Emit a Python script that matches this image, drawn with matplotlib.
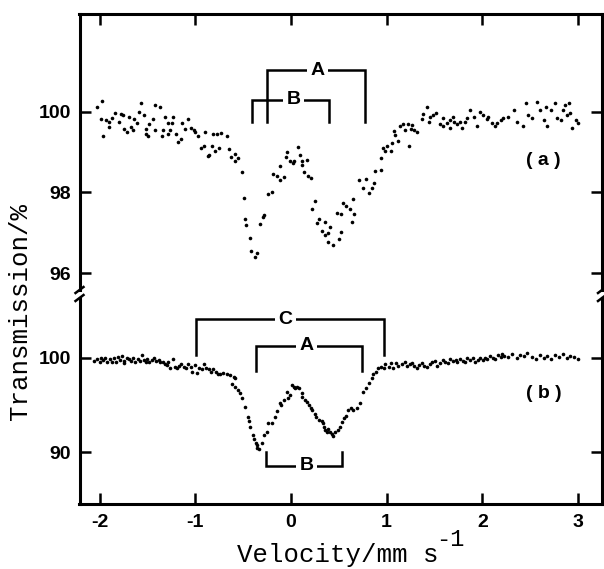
import numpy as np
import matplotlib.pyplot as plt

plt.rcParams['font.family'] = ['Liberation Sans', 'DejaVu Sans']
plt.rcParams['axes.unicode_minus'] = False

# spectrum (a): velocity (mm/s) and transmission (%)
vel_a = [-2.03, -1.97, -1.99, -1.96, -1.93, -1.90, -1.90, -1.87, -1.84, -1.80,
         -1.78, -1.76, -1.74, -1.71, -1.69, -1.67, -1.65, -1.64, -1.61, -1.59,
         -1.57, -1.54, -1.52, -1.52, -1.49, -1.48, -1.44, -1.42, -1.42, -1.37,
         -1.35, -1.34, -1.32, -1.29, -1.28, -1.26, -1.24, -1.23, -1.20, -1.18,
         -1.15, -1.14, -1.11, -1.08, -1.04, -1.01, -1.00, -0.97, -0.94, -0.91,
         -0.90, -0.87, -0.86, -0.83, -0.81, -0.79, -0.77, -0.75, -0.73, -0.67,
         -0.65, -0.63, -0.59, -0.58, -0.55, -0.51, -0.49, -0.48, -0.47, -0.43,
         -0.42, -0.38, -0.35, -0.32, -0.29, -0.28, -0.24, -0.20, -0.19, -0.15,
         -0.12, -0.11, -0.07, -0.04, -0.05, -0.01, 0.02, 0.03, 0.07, 0.09,
         0.11, 0.12, 0.17, 0.14, 0.18, 0.21, 0.25, 0.22, 0.29, 0.27,
         0.32, 0.36, 0.36, 0.41, 0.39, 0.39, 0.44, 0.50, 0.52, 0.48,
         0.52, 0.54, 0.58, 0.62, 0.64, 0.65, 0.66, 0.71, 0.75, 0.78,
         0.81, 0.85, 0.87, 0.88, 0.94, 0.94, 0.96, 0.98, 1.00, 1.04,
         1.06, 1.09, 1.08, 1.12, 1.14, 1.17, 1.19, 1.22, 1.23, 1.25,
         1.26, 1.29, 1.32, 1.37, 1.38, 1.42, 1.44, 1.45, 1.48, 1.52,
         1.56, 1.59, 1.59, 1.63, 1.66, 1.66, 1.69, 1.70, 1.74, 1.77,
         1.79, 1.82, 1.84, 1.87, 1.91, 1.94, 1.98, 2.01, 2.05, 2.06,
         2.10, 2.13, 2.15, 2.19, 2.22, 2.27, 2.33, 2.36, 2.42, 2.46,
         2.48, 2.52, 2.57, 2.60, 2.64, 2.66, 2.68, 2.72, 2.76, 2.78,
         2.82, 2.84, 2.86, 2.88, 2.90, 2.92, 2.94, 2.98, 3.00]
tr_a = [100.13, 100.27, 99.83, 99.39, 99.79, 99.76, 99.62, 99.84, 99.97, 99.75,
        99.95, 99.93, 99.57, 99.50, 99.88, 99.62, 99.56, 99.82, 99.72, 99.99,
        100.21, 99.92, 99.57, 99.45, 99.41, 99.70, 99.83, 100.16, 99.54, 100.13,
        99.41, 99.54, 99.88, 99.45, 99.72, 99.54, 99.72, 99.87, 99.46, 99.25,
        99.34, 99.72, 99.57, 99.83, 99.60, 99.54, 99.51, 99.39, 99.11, 99.16,
        99.51, 98.91, 98.94, 99.16, 99.45, 99.02, 99.45, 99.10, 99.47, 99.41,
        99.09, 98.88, 98.96, 98.77, 98.86, 98.50, 97.87, 97.35, 97.19, 96.86,
        96.55, 96.39, 96.49, 97.23, 97.38, 97.43, 97.97, 98.02, 98.46, 98.40,
        98.32, 98.65, 98.39, 99.00, 98.88, 98.77, 98.72, 98.77, 99.14, 98.94,
        98.79, 98.69, 98.81, 98.50, 98.42, 98.35, 97.80, 97.58, 97.35, 97.25,
        97.04, 97.28, 96.95, 97.14, 96.99, 96.78, 96.69, 96.84, 97.03, 97.50,
        97.46, 97.75, 97.66, 97.58, 97.28, 97.84, 97.46, 98.30, 98.10, 98.34,
        97.99, 98.10, 98.24, 98.54, 98.57, 98.86, 99.10, 99.02, 99.16, 99.04,
        99.24, 99.43, 99.53, 99.27, 99.64, 99.70, 99.56, 99.70, 99.16, 99.57,
        99.68, 99.56, 99.51, 99.82, 99.95, 100.13, 99.76, 99.87, 99.93, 99.97,
        99.70, 99.84, 99.65, 99.72, 99.60, 99.80, 99.88, 99.75, 99.70, 99.76,
        99.60, 99.75, 99.84, 100.05, 99.88, 99.65, 100.01, 99.93, 99.82, 99.87,
        99.72, 99.64, 99.72, 99.80, 99.84, 99.88, 100.05, 99.76, 99.64, 100.21,
        99.93, 99.84, 100.25, 100.05, 99.80, 100.13, 99.64, 100.05, 100.21, 99.84,
        99.80, 100.05, 100.17, 99.93, 100.21, 99.97, 99.60, 99.80, 99.72]

# spectrum (b)
vel_b = [-2.06, -2.03, -2.00, -1.99, -1.96, -1.94, -1.92, -1.89, -1.87, -1.85,
         -1.83, -1.81, -1.79, -1.77, -1.75, -1.74, -1.71, -1.69, -1.67, -1.65,
         -1.63, -1.60, -1.58, -1.56, -1.54, -1.52, -1.50, -1.48, -1.45, -1.43,
         -1.41, -1.38, -1.37, -1.34, -1.32, -1.30, -1.28, -1.26, -1.23, -1.21,
         -1.19, -1.17, -1.15, -1.12, -1.10, -1.08, -1.05, -1.03, -1.00, -0.98,
         -0.96, -0.93, -0.91, -0.89, -0.86, -0.84, -0.81, -0.78, -0.76, -0.74,
         -0.71, -0.67, -0.64, -0.60, -0.58, -0.62, -0.58, -0.55, -0.53, -0.51,
         -0.48, -0.45, -0.44, -0.43, -0.40, -0.39, -0.37, -0.35, -0.33, -0.36,
         -0.30, -0.28, -0.25, -0.24, -0.20, -0.17, -0.15, -0.12, -0.10, -0.07,
         -0.04, -0.03, -0.01, 0.01, 0.03, 0.04, 0.06, 0.08, 0.11, 0.12,
         0.15, 0.17, 0.19, 0.21, 0.22, 0.25, 0.26, 0.29, 0.32, 0.33,
         0.35, 0.36, 0.38, 0.39, 0.41, 0.43, 0.44, 0.46, 0.49, 0.51,
         0.53, 0.55, 0.58, 0.60, 0.63, 0.65, 0.69, 0.72, 0.75, 0.78,
         0.81, 0.85, 0.86, 0.89, 0.91, 0.94, 0.97, 0.98, 1.02, 1.04,
         1.07, 1.10, 1.12, 1.16, 1.19, 1.21, 1.24, 1.26, 1.29, 1.32,
         1.34, 1.37, 1.39, 1.42, 1.45, 1.47, 1.51, 1.53, 1.56, 1.59,
         1.61, 1.64, 1.66, 1.69, 1.72, 1.74, 1.77, 1.80, 1.82, 1.84,
         1.87, 1.90, 1.92, 1.95, 1.98, 2.01, 2.03, 2.05, 2.08, 2.11,
         2.13, 2.16, 2.19, 2.21, 2.23, 2.27, 2.31, 2.36, 2.39, 2.43,
         2.47, 2.52, 2.56, 2.60, 2.64, 2.68, 2.72, 2.76, 2.80, 2.84,
         2.88, 2.92, 2.96, 3.00]
tr_b = [99.65, 99.86, 99.58, 99.93, 99.72, 100.00, 99.58, 99.86, 99.51, 99.93,
        99.58, 100.11, 99.76, 100.21, 99.41, 99.65, 99.93, 99.83, 99.65, 99.93,
        99.51, 99.86, 99.65, 100.29, 99.76, 99.58, 99.86, 99.58, 99.76, 99.93,
        99.65, 99.76, 99.51, 99.58, 99.33, 99.20, 99.58, 98.88, 99.86, 99.05,
        98.94, 99.16, 99.30, 99.05, 98.94, 99.30, 99.05, 98.46, 99.23, 98.35,
        98.94, 98.81, 99.30, 98.88, 98.81, 98.52, 98.77, 98.46, 98.25, 98.25,
        98.35, 98.25, 98.17, 97.99, 97.82, 97.19, 96.94, 96.59, 96.24, 95.71,
        94.83, 93.77, 93.31, 92.71, 91.84, 91.41, 90.96, 90.50, 90.36, 90.78,
        90.96, 91.84, 92.19, 93.07, 93.07, 93.77, 94.37, 95.18, 95.01, 95.53,
        96.41, 95.78, 96.06, 97.12, 96.94, 96.77, 96.94, 96.77, 96.24, 95.88,
        95.53, 95.35, 95.01, 94.72, 94.48, 94.02, 93.77, 93.42, 93.31, 93.07,
        92.71, 92.37, 92.19, 92.47, 92.19, 91.91, 91.76, 92.19, 92.37, 92.71,
        93.24, 93.60, 93.88, 94.48, 94.72, 94.48, 94.66, 95.18, 96.35, 96.77,
        97.30, 97.82, 98.25, 98.46, 98.88, 99.05, 98.88, 99.30, 99.05, 99.41,
        98.94, 99.41, 99.16, 99.30, 99.51, 99.16, 99.30, 99.41, 99.16, 98.94,
        99.23, 99.41, 99.16, 99.05, 99.30, 99.51, 99.65, 99.16, 99.41, 99.76,
        99.58, 99.41, 99.86, 99.65, 99.76, 99.51, 99.86, 99.65, 99.58, 99.93,
        99.76, 100.00, 99.58, 99.76, 99.93, 99.76, 100.00, 99.86, 100.21, 100.00,
        99.86, 100.29, 100.11, 100.36, 100.18, 100.04, 100.39, 99.93, 100.28, 100.18,
        100.46, 100.11, 99.89, 100.28, 99.93, 100.18, 99.83, 100.28, 100.04, 100.39,
        99.93, 100.18, 100.11, 99.83]

# doublet line positions (mm/s) marked by the brackets
lines_a = {'A': (-0.25, 0.77), 'B': (-0.41, 0.40)}
lines_b = {'C': (-0.99, 0.97), 'A': (-0.37, 0.745), 'B': (-0.26, 0.535)}

W, H = 604, 569
fig = plt.figure(figsize=(W / 100, H / 100), dpi=100)

x0, x1 = 79.5, 602
ax1 = fig.add_axes([x0 / W, 1 - 290 / H, (x1 - x0) / W, (290 - 14) / H])
ax2 = fig.add_axes([x0 / W, 1 - 504 / H, (x1 - x0) / W, (504 - 298) / H])

for ax in (ax1, ax2):
    ax.set_xlim(-2.21, 3.25)
    ax.set_xticks([-2, -1, 0, 1, 2, 3])
    for s in ax.spines.values():
        s.set_linewidth(2.2)
    ax.tick_params(axis='y', direction='in', left=True, right=True, length=8,
                   width=1.8, labelsize=14, pad=6)
    ax.tick_params(axis='x', direction='in', length=8, width=1.8, labelsize=14, pad=7)
    for lab in ax.get_xticklabels() + ax.get_yticklabels():
        lab.set_fontweight('bold')

ax1.plot(vel_a, tr_a, 'o', color='black', markersize=2.6, markeredgewidth=0)
ax1.set_ylim(95.58, 102.43)
ax1.set_yticks([96, 98, 100])
ax1.spines['bottom'].set_visible(False)
ax1.tick_params(axis='x', bottom=False, top=True, labelbottom=False)

ax2.plot(vel_b, tr_b, 'o', color='black', markersize=2.6, markeredgewidth=0)
ax2.set_ylim(84.53, 106.31)
ax2.set_yticks([90, 100])
ax2.spines['top'].set_visible(False)
ax2.tick_params(axis='x', bottom=True, top=False)


def bracket(ax, xs, y_bar, y_leg, label, lx):
    ax.plot([xs[0], xs[0], xs[1], xs[1]], [y_leg, y_bar, y_bar, y_leg],
            color='black', linewidth=1.8, solid_joinstyle='miter')
    ax.text(lx, y_bar, label, ha='center', va='center', fontsize=14,
            fontweight='bold',
            bbox=dict(facecolor='white', edgecolor='none', pad=2.5))


bracket(ax1, lines_a['A'], 101.04, 99.75, 'A', 0.28)
bracket(ax1, lines_a['B'], 100.30, 99.75, 'B', 0.03)
bracket(ax2, lines_b['C'], 104.05, 100.3, 'C', -0.06)
bracket(ax2, lines_b['A'], 101.27, 98.63, 'A', 0.16)
bracket(ax2, lines_b['B'], 88.6, 90.07, 'B', 0.16)

ax1.text(2.64, 98.8, '( a )', ha='center', va='center', fontsize=14, fontweight='bold')
ax2.text(2.64, 96.2, '( b )', ha='center', va='center', fontsize=14, fontweight='bold')

# axis break marks on both side spines
for xb in (x0, x1):
    for yb in (290, 298):
        fig.add_artist(plt.Line2D([(xb - 4) / W, (xb + 4) / W],
                                  [1 - (yb + 3) / H, 1 - (yb - 3) / H],
                                  color='black', linewidth=1.8))

fig.text(20 / W, 1 - 311 / H, 'Transmission/%', rotation=90, ha='center',
         va='center', family='Liberation Mono', fontsize=18.5)
fig.text(237 / W, 1 - 562 / H, 'Velocity/mm s', ha='left', va='baseline',
         family='Liberation Mono', fontsize=18.5)
fig.text(436 / W, 1 - 546 / H, '-1', ha='left', va='baseline',
         family='Liberation Mono', fontsize=17)

fig.savefig('out.png', dpi=100)
